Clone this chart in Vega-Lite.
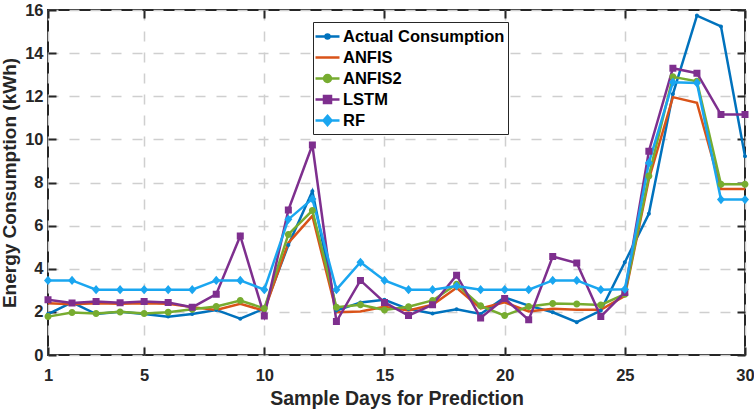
{
  "$schema": "https://vega.github.io/schema/vega-lite/v6.json",
  "width": 697,
  "height": 345,
  "autosize": "none",
  "padding": {"left": 48, "top": 10, "right": 9, "bottom": 55},
  "background": "white",
  "config": {
    "view": {"stroke": "#262626", "strokeWidth": 2},
    "font": "Liberation Sans",
    "axis": {
      "labelFont": "Liberation Sans",
      "labelFontWeight": "bold",
      "labelFontSize": 16.5,
      "labelColor": "#262626",
      "labelFlush": false,
      "titleFont": "Liberation Sans",
      "titleFontWeight": "bold",
      "titleFontSize": 19.5,
      "titleColor": "#262626",
      "domain": false,
      "tickColor": "#262626",
      "tickWidth": 2,
      "gridColor": "#cfcfcf",
      "gridWidth": 1.5,
      "gridDash": [10, 11]
    }
  },
  "data": {
    "values": [
      {"d": 1, "s": "Actual Consumption", "v": 1.9},
      {"d": 2, "s": "Actual Consumption", "v": 2.44},
      {"d": 3, "s": "Actual Consumption", "v": 1.9},
      {"d": 4, "s": "Actual Consumption", "v": 2.0},
      {"d": 5, "s": "Actual Consumption", "v": 1.9},
      {"d": 6, "s": "Actual Consumption", "v": 1.78},
      {"d": 7, "s": "Actual Consumption", "v": 1.9},
      {"d": 8, "s": "Actual Consumption", "v": 2.09},
      {"d": 9, "s": "Actual Consumption", "v": 1.68},
      {"d": 10, "s": "Actual Consumption", "v": 2.15},
      {"d": 11, "s": "Actual Consumption", "v": 5.1},
      {"d": 12, "s": "Actual Consumption", "v": 7.59},
      {"d": 13, "s": "Actual Consumption", "v": 2.06},
      {"d": 14, "s": "Actual Consumption", "v": 2.44},
      {"d": 15, "s": "Actual Consumption", "v": 2.56},
      {"d": 16, "s": "Actual Consumption", "v": 2.13},
      {"d": 17, "s": "Actual Consumption", "v": 1.93},
      {"d": 18, "s": "Actual Consumption", "v": 2.12},
      {"d": 19, "s": "Actual Consumption", "v": 1.9},
      {"d": 20, "s": "Actual Consumption", "v": 2.67},
      {"d": 21, "s": "Actual Consumption", "v": 2.29},
      {"d": 22, "s": "Actual Consumption", "v": 1.98},
      {"d": 23, "s": "Actual Consumption", "v": 1.52},
      {"d": 24, "s": "Actual Consumption", "v": 2.06},
      {"d": 25, "s": "Actual Consumption", "v": 4.3},
      {"d": 26, "s": "Actual Consumption", "v": 6.55},
      {"d": 27, "s": "Actual Consumption", "v": 12.1},
      {"d": 28, "s": "Actual Consumption", "v": 15.74},
      {"d": 29, "s": "Actual Consumption", "v": 15.24},
      {"d": 30, "s": "Actual Consumption", "v": 9.22},
      {"d": 1, "s": "ANFIS", "v": 2.4},
      {"d": 2, "s": "ANFIS", "v": 2.35},
      {"d": 3, "s": "ANFIS", "v": 2.4},
      {"d": 4, "s": "ANFIS", "v": 2.38},
      {"d": 5, "s": "ANFIS", "v": 2.4},
      {"d": 6, "s": "ANFIS", "v": 2.38},
      {"d": 7, "s": "ANFIS", "v": 2.22},
      {"d": 8, "s": "ANFIS", "v": 2.09},
      {"d": 9, "s": "ANFIS", "v": 2.38},
      {"d": 10, "s": "ANFIS", "v": 2.05},
      {"d": 11, "s": "ANFIS", "v": 5.2},
      {"d": 12, "s": "ANFIS", "v": 6.45},
      {"d": 13, "s": "ANFIS", "v": 1.98},
      {"d": 14, "s": "ANFIS", "v": 2.02},
      {"d": 15, "s": "ANFIS", "v": 2.24},
      {"d": 16, "s": "ANFIS", "v": 2.06},
      {"d": 17, "s": "ANFIS", "v": 2.33},
      {"d": 18, "s": "ANFIS", "v": 3.12},
      {"d": 19, "s": "ANFIS", "v": 2.16},
      {"d": 20, "s": "ANFIS", "v": 2.44},
      {"d": 21, "s": "ANFIS", "v": 2.02},
      {"d": 22, "s": "ANFIS", "v": 2.15},
      {"d": 23, "s": "ANFIS", "v": 2.1},
      {"d": 24, "s": "ANFIS", "v": 2.1},
      {"d": 25, "s": "ANFIS", "v": 2.74},
      {"d": 26, "s": "ANFIS", "v": 8.15},
      {"d": 27, "s": "ANFIS", "v": 11.96},
      {"d": 28, "s": "ANFIS", "v": 11.7},
      {"d": 29, "s": "ANFIS", "v": 7.7},
      {"d": 30, "s": "ANFIS", "v": 7.7},
      {"d": 1, "s": "ANFIS2", "v": 1.78},
      {"d": 2, "s": "ANFIS2", "v": 1.97},
      {"d": 3, "s": "ANFIS2", "v": 1.93},
      {"d": 4, "s": "ANFIS2", "v": 2.0},
      {"d": 5, "s": "ANFIS2", "v": 1.93},
      {"d": 6, "s": "ANFIS2", "v": 1.98},
      {"d": 7, "s": "ANFIS2", "v": 2.12},
      {"d": 8, "s": "ANFIS2", "v": 2.25},
      {"d": 9, "s": "ANFIS2", "v": 2.53},
      {"d": 10, "s": "ANFIS2", "v": 2.16},
      {"d": 11, "s": "ANFIS2", "v": 5.59},
      {"d": 12, "s": "ANFIS2", "v": 6.7},
      {"d": 13, "s": "ANFIS2", "v": 2.21},
      {"d": 14, "s": "ANFIS2", "v": 2.33},
      {"d": 15, "s": "ANFIS2", "v": 2.09},
      {"d": 16, "s": "ANFIS2", "v": 2.24},
      {"d": 17, "s": "ANFIS2", "v": 2.53},
      {"d": 18, "s": "ANFIS2", "v": 3.28},
      {"d": 19, "s": "ANFIS2", "v": 2.28},
      {"d": 20, "s": "ANFIS2", "v": 1.83},
      {"d": 21, "s": "ANFIS2", "v": 2.25},
      {"d": 22, "s": "ANFIS2", "v": 2.39},
      {"d": 23, "s": "ANFIS2", "v": 2.36},
      {"d": 24, "s": "ANFIS2", "v": 2.32},
      {"d": 25, "s": "ANFIS2", "v": 2.82},
      {"d": 26, "s": "ANFIS2", "v": 8.3},
      {"d": 27, "s": "ANFIS2", "v": 12.9},
      {"d": 28, "s": "ANFIS2", "v": 12.69},
      {"d": 29, "s": "ANFIS2", "v": 7.92},
      {"d": 30, "s": "ANFIS2", "v": 7.92},
      {"d": 1, "s": "LSTM", "v": 2.56},
      {"d": 2, "s": "LSTM", "v": 2.41},
      {"d": 3, "s": "LSTM", "v": 2.48},
      {"d": 4, "s": "LSTM", "v": 2.42},
      {"d": 5, "s": "LSTM", "v": 2.48},
      {"d": 6, "s": "LSTM", "v": 2.44},
      {"d": 7, "s": "LSTM", "v": 2.21},
      {"d": 8, "s": "LSTM", "v": 2.82},
      {"d": 9, "s": "LSTM", "v": 5.52},
      {"d": 10, "s": "LSTM", "v": 1.81},
      {"d": 11, "s": "LSTM", "v": 6.72},
      {"d": 12, "s": "LSTM", "v": 9.74},
      {"d": 13, "s": "LSTM", "v": 1.55},
      {"d": 14, "s": "LSTM", "v": 3.46},
      {"d": 15, "s": "LSTM", "v": 2.44},
      {"d": 16, "s": "LSTM", "v": 1.83},
      {"d": 17, "s": "LSTM", "v": 2.33},
      {"d": 18, "s": "LSTM", "v": 3.7},
      {"d": 19, "s": "LSTM", "v": 1.72},
      {"d": 20, "s": "LSTM", "v": 2.62},
      {"d": 21, "s": "LSTM", "v": 1.63},
      {"d": 22, "s": "LSTM", "v": 4.57},
      {"d": 23, "s": "LSTM", "v": 4.27},
      {"d": 24, "s": "LSTM", "v": 1.78},
      {"d": 25, "s": "LSTM", "v": 2.9},
      {"d": 26, "s": "LSTM", "v": 9.45},
      {"d": 27, "s": "LSTM", "v": 13.3},
      {"d": 28, "s": "LSTM", "v": 13.07},
      {"d": 29, "s": "LSTM", "v": 11.15},
      {"d": 30, "s": "LSTM", "v": 11.15},
      {"d": 1, "s": "RF", "v": 3.46},
      {"d": 2, "s": "RF", "v": 3.46},
      {"d": 3, "s": "RF", "v": 3.03},
      {"d": 4, "s": "RF", "v": 3.03},
      {"d": 5, "s": "RF", "v": 3.03},
      {"d": 6, "s": "RF", "v": 3.03},
      {"d": 7, "s": "RF", "v": 3.03},
      {"d": 8, "s": "RF", "v": 3.46},
      {"d": 9, "s": "RF", "v": 3.46},
      {"d": 10, "s": "RF", "v": 3.03},
      {"d": 11, "s": "RF", "v": 6.29},
      {"d": 12, "s": "RF", "v": 7.24},
      {"d": 13, "s": "RF", "v": 3.03},
      {"d": 14, "s": "RF", "v": 4.3},
      {"d": 15, "s": "RF", "v": 3.46},
      {"d": 16, "s": "RF", "v": 3.03},
      {"d": 17, "s": "RF", "v": 3.03},
      {"d": 18, "s": "RF", "v": 3.2},
      {"d": 19, "s": "RF", "v": 3.03},
      {"d": 20, "s": "RF", "v": 3.03},
      {"d": 21, "s": "RF", "v": 3.03},
      {"d": 22, "s": "RF", "v": 3.46},
      {"d": 23, "s": "RF", "v": 3.46},
      {"d": 24, "s": "RF", "v": 3.03},
      {"d": 25, "s": "RF", "v": 3.05},
      {"d": 26, "s": "RF", "v": 8.91},
      {"d": 27, "s": "RF", "v": 12.65},
      {"d": 28, "s": "RF", "v": 12.62},
      {"d": 29, "s": "RF", "v": 7.21},
      {"d": 30, "s": "RF", "v": 7.21}
    ]
  },
  "layer": [
    {
      "mark": {"type": "line", "strokeWidth": 2.5},
      "encoding": {
        "x": {
          "field": "d", "type": "quantitative",
          "scale": {"domain": [1, 30], "nice": false, "zero": false},
          "axis": {"orient": "bottom", "values": [1, 5, 10, 15, 20, 25, 30], "title": "Sample Days for Prediction", "grid": true, "tickSize": -8, "labelPadding": 20, "titlePadding": 6}
        },
        "y": {
          "field": "v", "type": "quantitative",
          "scale": {"domain": [0, 16], "nice": false},
          "axis": {"orient": "left", "values": [0, 2, 4, 6, 8, 10, 12, 14, 16], "title": "Energy Consumption (kWh)", "titleFontSize": 19, "grid": true, "tickSize": -8, "labelPadding": 13, "titlePadding": 5}
        },
        "color": {
          "field": "s", "type": "nominal",
          "scale": {"domain": ["Actual Consumption", "ANFIS", "ANFIS2", "LSTM", "RF"], "range": ["#0072BD", "#D95319", "#77AC30", "#7E2F8E", "#1AA6F0"]},
          "legend": {
            "title": null, "orient": "none", "legendX": 265, "legendY": 12,
            "padding": 3, "rowPadding": 1, "labelOffset": 4, "labelLimit": 400,
            "labelFont": "Liberation Sans", "labelFontWeight": "bold", "labelFontSize": 16.5, "labelColor": "#000000",
            "strokeColor": "#262626", "fillColor": "#ffffff", "symbolSize": 400, "symbolStrokeWidth": 2.5,
            "encode": {
              "symbols": {
                "update": {
                  "fill": {"signal": "scale('color', datum.value)"},
                  "stroke": {"signal": "scale('color', datum.value)"},
                  "strokeWidth": {"value": 2.5},
                  "size": {"value": 400},
                  "opacity": {"value": 1}
                }
              }
            }
          }
        }
      }
    },
    {
      "mark": {"type": "point", "filled": true, "opacity": 1, "strokeWidth": 0, "size": 400},
      "encoding": {
        "x": {
          "field": "d", "type": "quantitative",
          "scale": {"domain": [1, 30], "nice": false, "zero": false},
          "axis": {"orient": "top", "values": [1, 5, 10, 15, 20, 25, 30], "title": null, "labels": false, "grid": false, "tickSize": -8}
        },
        "y": {
          "field": "v", "type": "quantitative",
          "scale": {"domain": [0, 16], "nice": false},
          "axis": {"orient": "right", "values": [0, 2, 4, 6, 8, 10, 12, 14, 16], "title": null, "labels": false, "grid": false, "tickSize": -8}
        },
        "color": {
          "field": "s", "type": "nominal",
          "scale": {"domain": ["Actual Consumption", "ANFIS", "ANFIS2", "LSTM", "RF"], "range": ["#0072BD", "#D95319", "#77AC30", "#7E2F8E", "#1AA6F0"]},
          "legend": {
            "title": null, "orient": "none", "legendX": 265, "legendY": 12,
            "padding": 3, "rowPadding": 1, "labelOffset": 4, "labelLimit": 400,
            "labelFont": "Liberation Sans", "labelFontWeight": "bold", "labelFontSize": 16.5, "labelColor": "#000000",
            "strokeColor": "#262626", "fillColor": "#ffffff", "symbolSize": 400, "symbolStrokeWidth": 2.5,
            "encode": {
              "symbols": {
                "update": {
                  "fill": {"signal": "scale('color', datum.value)"},
                  "stroke": {"signal": "scale('color', datum.value)"},
                  "strokeWidth": {"value": 2.5},
                  "size": {"value": 400},
                  "opacity": {"value": 1}
                }
              }
            }
          }
        },
        "shape": {
          "field": "s", "type": "nominal",
          "scale": {
            "domain": ["Actual Consumption", "ANFIS", "ANFIS2", "LSTM", "RF"],
            "range": [
              "M-1.2,0H1.2M0.2,0A0.2,0.2 0 1,1 -0.2,0A0.2,0.2 0 1,1 0.2,0Z",
              "M-1.2,0H1.2",
              "M-1.2,0H1.2M0.35,0A0.35,0.35 0 1,1 -0.35,0A0.35,0.35 0 1,1 0.35,0Z",
              "M-1.2,0H1.2M-0.35,-0.35H0.35V0.35H-0.35Z",
              "M-1.2,0H1.2M0,-0.46L0.4,0L0,0.46L-0.4,0Z"
            ]
          },
          "legend": null
        }
      }
    }
  ],
  "resolve": {"axis": {"x": "independent", "y": "independent"}}
}
